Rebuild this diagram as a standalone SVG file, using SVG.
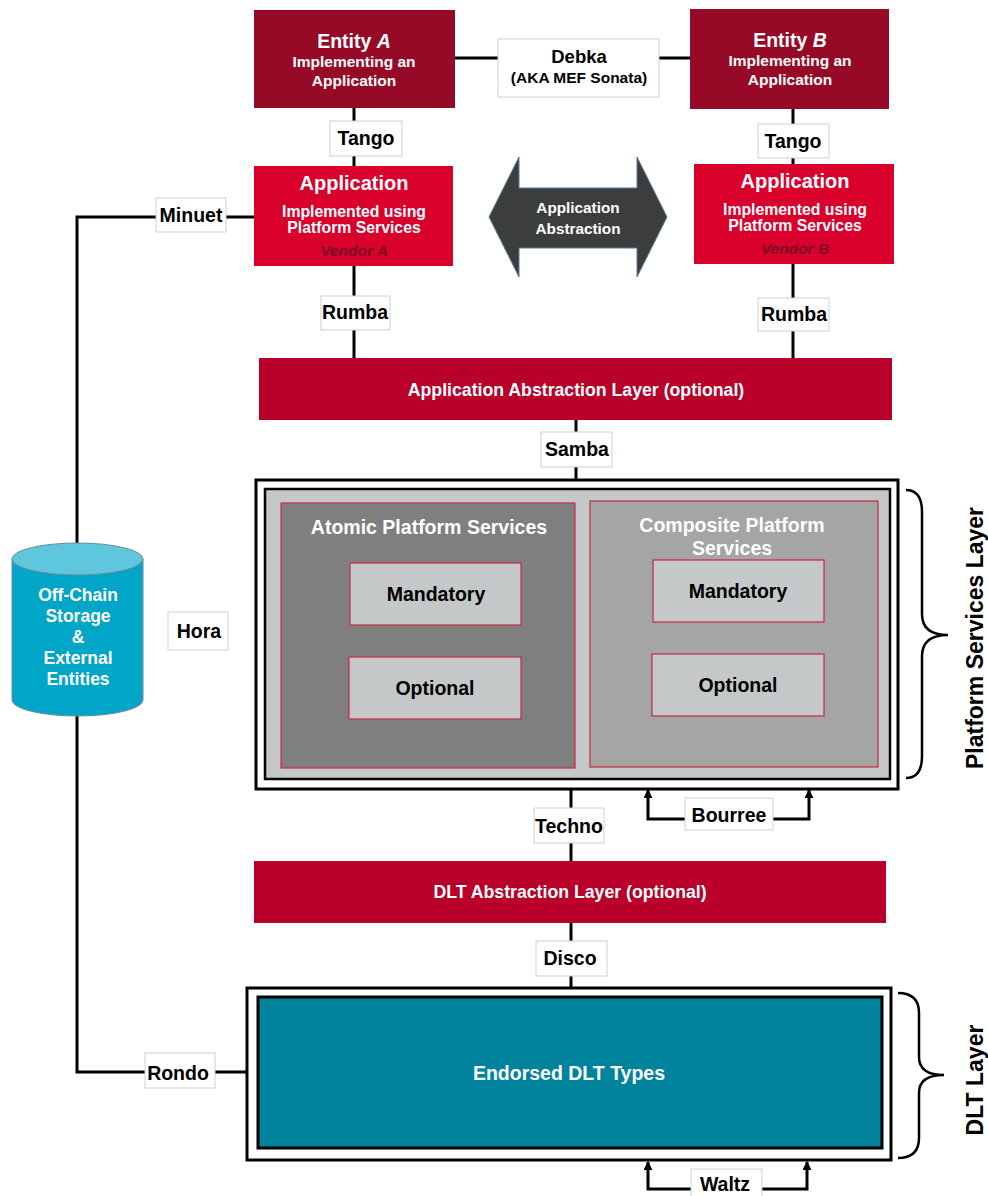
<svg xmlns="http://www.w3.org/2000/svg" width="988" height="1196" viewBox="0 0 988 1196">
  <style>
    text { font-family: "Liberation Sans", Arial, sans-serif; font-weight: bold; text-anchor: middle; }
    .wt { fill: #ffffff; }
    .bk { fill: #000000; }
    .entity { fill: #970a27; }
    .app { fill: #d9002b; }
    .layer { fill: #b8002a; }
    .tag { fill: #ffffff; stroke: #cfcfcf; stroke-width: 1; }
    .tagtxt { fill: #000000; font-size: 19.5px; }
    .wire { stroke: #000000; stroke-width: 3; fill: none; }
    .sub { fill: #c4c8c8; stroke: #c8283f; stroke-width: 1.2; }
    .subtxt { fill: #000000; font-size: 19.5px; }
    .brace { stroke: #000000; stroke-width: 2.5; fill: none; }
  </style>
  <defs>
    <marker id="head" viewBox="0 0 10 10" refX="9" refY="5" markerWidth="3" markerHeight="3" orient="auto" markerUnits="strokeWidth">
      <path d="M0,0 L10,5 L0,10 Z" fill="#000"/>
    </marker>
  </defs>

  <rect width="988" height="1196" fill="#ffffff"/>

  <!-- connectors -->
  <g id="connectors">
    <line class="wire" x1="455" y1="58" x2="690" y2="58"/>
    <line class="wire" x1="354" y1="108" x2="354" y2="166"/>
    <line class="wire" x1="793" y1="108" x2="793" y2="164"/>
    <line class="wire" x1="354" y1="266" x2="354" y2="358"/>
    <line class="wire" x1="793" y1="264" x2="793" y2="358"/>
    <line class="wire" x1="576" y1="420" x2="576" y2="480"/>
    <line class="wire" x1="571" y1="789" x2="571" y2="861"/>
    <line class="wire" x1="571" y1="923" x2="571" y2="987"/>
    <polyline class="wire" points="254,217 77,217 77,1072 247,1072"/>
    <polyline class="wire" points="690,819 648,819 648,790" marker-end="url(#head)"/>
    <polyline class="wire" points="770,819 809,819 809,790" marker-end="url(#head)"/>
    <polyline class="wire" points="695,1189 648,1189 648,1162" marker-end="url(#head)"/>
    <polyline class="wire" points="760,1189 807,1189 807,1162" marker-end="url(#head)"/>
  </g>

  <!-- entities -->
  <g id="entity-a">
    <rect class="entity" x="254" y="10" width="201" height="98"/>
    <text class="wt" x="354" y="48" font-size="19.5">Entity <tspan font-style="italic">A</tspan></text>
    <text class="wt" x="354" y="67" font-size="15.5">Implementing an</text>
    <text class="wt" x="354" y="86" font-size="15.5">Application</text>
  </g>
  <g id="entity-b">
    <rect class="entity" x="690" y="9" width="199" height="100"/>
    <text class="wt" x="790" y="47" font-size="19.5">Entity <tspan font-style="italic">B</tspan></text>
    <text class="wt" x="790" y="66" font-size="15.5">Implementing an</text>
    <text class="wt" x="790" y="85" font-size="15.5">Application</text>
  </g>
  <g id="debka">
    <rect class="tag" x="498" y="39" width="161" height="58"/>
    <text class="bk" x="579" y="63" font-size="18.5">Debka</text>
    <text class="bk" x="579" y="83" font-size="15.5">(AKA MEF Sonata)</text>
  </g>
  <g id="tango-a">
    <rect class="tag" x="330" y="121" width="72" height="35"/>
    <text class="tagtxt" x="366" y="145">Tango</text>
  </g>
  <g id="tango-b">
    <rect class="tag" x="758" y="124" width="71" height="34"/>
    <text class="tagtxt" x="793" y="148">Tango</text>
  </g>

  <!-- applications -->
  <g id="application-a">
    <rect class="app" x="254" y="166" width="199" height="100"/>
    <text class="wt" x="354" y="190" font-size="20">Application</text>
    <text class="wt" x="354" y="217" font-size="15.8">Implemented using</text>
    <text class="wt" x="354" y="233" font-size="15.8">Platform Services</text>
    <text x="354" y="256" font-size="15.5" font-style="italic" fill="#7c0a22">Vendor A</text>
  </g>
  <g id="application-b">
    <rect class="app" x="694" y="164" width="200" height="100"/>
    <text class="wt" x="795" y="188" font-size="20">Application</text>
    <text class="wt" x="795" y="215" font-size="15.8">Implemented using</text>
    <text class="wt" x="795" y="231" font-size="15.8">Platform Services</text>
    <text x="795" y="254" font-size="15.5" font-style="italic" fill="#7c0a22">Vendor B</text>
  </g>
  <g id="application-abstraction">
    <polygon points="489,217 519,157 519,188 637,188 637,157 667,217 637,277 637,248 519,248 519,277" fill="#3c3e3e" stroke="#5a7896" stroke-width="1"/>
    <text class="wt" x="578" y="213" font-size="15.3">Application</text>
    <text class="wt" x="578" y="234" font-size="15.3">Abstraction</text>
  </g>
  <g id="minuet">
    <rect class="tag" x="156" y="198" width="70" height="34"/>
    <text class="tagtxt" x="191" y="222">Minuet</text>
  </g>
  <g id="rumba-a">
    <rect class="tag" x="321" y="296" width="69" height="34"/>
    <text class="tagtxt" x="355" y="319">Rumba</text>
  </g>
  <g id="rumba-b">
    <rect class="tag" x="758" y="298" width="71" height="33"/>
    <text class="tagtxt" x="794" y="321">Rumba</text>
  </g>

  <!-- abstraction layer -->
  <g id="app-abstraction-layer">
    <rect class="layer" x="259" y="358" width="633" height="62"/>
    <text class="wt" x="576" y="396" font-size="17.7">Application Abstraction Layer (optional)</text>
  </g>
  <g id="samba">
    <rect class="tag" x="541" y="432" width="71" height="35"/>
    <text class="tagtxt" x="577" y="456">Samba</text>
  </g>

  <!-- platform services -->
  <g id="platform-services">
    <rect x="256" y="480" width="642" height="309" fill="#ffffff" stroke="#000" stroke-width="3"/>
    <rect x="265" y="489" width="625" height="290" fill="#c4c8c8" stroke="#000" stroke-width="2.5"/>
  </g>
  <g id="atomic-services">
    <rect x="281" y="503" width="294" height="265" fill="#7f7f7f" stroke="#c8283f" stroke-width="1.2"/>
    <text class="wt" x="429" y="534" font-size="19.5">Atomic Platform Services</text>
  </g>
  <g id="atomic-mandatory">
    <rect class="sub" x="350" y="563" width="171" height="62"/>
    <text class="subtxt" x="436" y="601">Mandatory</text>
  </g>
  <g id="atomic-optional">
    <rect class="sub" x="349" y="657" width="172" height="62"/>
    <text class="subtxt" x="435" y="695">Optional</text>
  </g>
  <g id="composite-services">
    <rect x="590" y="501" width="288" height="266" fill="#a5a5a5" stroke="#c8283f" stroke-width="1.2"/>
    <text class="wt" x="732" y="532" font-size="19.5">Composite Platform</text>
    <text class="wt" x="732" y="555" font-size="19.5">Services</text>
  </g>
  <g id="composite-mandatory">
    <rect class="sub" x="653" y="560" width="171" height="62"/>
    <text class="subtxt" x="738" y="598">Mandatory</text>
  </g>
  <g id="composite-optional">
    <rect class="sub" x="652" y="654" width="172" height="62"/>
    <text class="subtxt" x="738" y="692">Optional</text>
  </g>
  <g id="platform-brace">
    <path class="brace" d="M906,490 Q922,490 922,512 L922,614 Q922,635 948,635 Q922,635 922,656 L922,756 Q922,778 906,778"/>
    <text class="bk" transform="translate(983,638) rotate(-90)" font-size="23">Platform Services Layer</text>
  </g>

  <!-- off-chain storage -->
  <g id="off-chain-storage">
    <path d="M12,559 L12,700 A65.5,16 0 0 0 143,700 L143,559 Z" fill="#00a5c8" stroke="#6e8a94" stroke-width="1"/>
    <ellipse cx="77.5" cy="559" rx="65.5" ry="16" fill="#5fc7dd" stroke="#6e8a94" stroke-width="1"/>
    <text class="wt" x="78" y="601" font-size="17.5">Off-Chain</text>
    <text class="wt" x="78" y="622" font-size="17.5">Storage</text>
    <text class="wt" x="78" y="643" font-size="17.5">&amp;</text>
    <text class="wt" x="78" y="664" font-size="17.5">External</text>
    <text class="wt" x="78" y="685" font-size="17.5">Entities</text>
  </g>
  <g id="hora">
    <rect class="tag" x="168" y="612" width="60" height="38"/>
    <text class="tagtxt" x="199" y="638">Hora</text>
  </g>

  <g id="techno">
    <rect class="tag" x="534" y="808" width="70" height="35"/>
    <text class="tagtxt" x="569" y="833">Techno</text>
  </g>
  <g id="bourree">
    <rect class="tag" x="685" y="798" width="88" height="32"/>
    <text class="tagtxt" x="729" y="822">Bourree</text>
  </g>

  <g id="dlt-abstraction-layer">
    <rect class="layer" x="254" y="861" width="632" height="62"/>
    <text class="wt" x="570" y="898" font-size="17.7">DLT Abstraction Layer (optional)</text>
  </g>
  <g id="disco">
    <rect class="tag" x="536" y="941" width="71" height="35"/>
    <text class="tagtxt" x="570" y="965">Disco</text>
  </g>

  <!-- DLT layer -->
  <g id="dlt-types">
    <rect x="247" y="988" width="644" height="172" fill="#ffffff" stroke="#000" stroke-width="3"/>
    <rect x="258" y="997" width="624" height="151" fill="#01839d" stroke="#000" stroke-width="3"/>
    <text class="wt" x="569" y="1080" font-size="19.5">Endorsed DLT Types</text>
  </g>
  <g id="rondo">
    <rect class="tag" x="145" y="1053" width="70" height="35"/>
    <text class="tagtxt" x="178" y="1080">Rondo</text>
  </g>
  <g id="waltz">
    <rect class="tag" x="691" y="1169" width="71" height="30"/>
    <text class="tagtxt" x="725" y="1191">Waltz</text>
  </g>
  <g id="dlt-brace">
    <path class="brace" d="M898,993 Q919,993 919,1013 L919,1057 Q919,1075 944,1075 Q919,1075 919,1093 L919,1138 Q919,1158 898,1158"/>
    <text class="bk" transform="translate(983,1080) rotate(-90)" font-size="23">DLT Layer</text>
  </g>
</svg>
